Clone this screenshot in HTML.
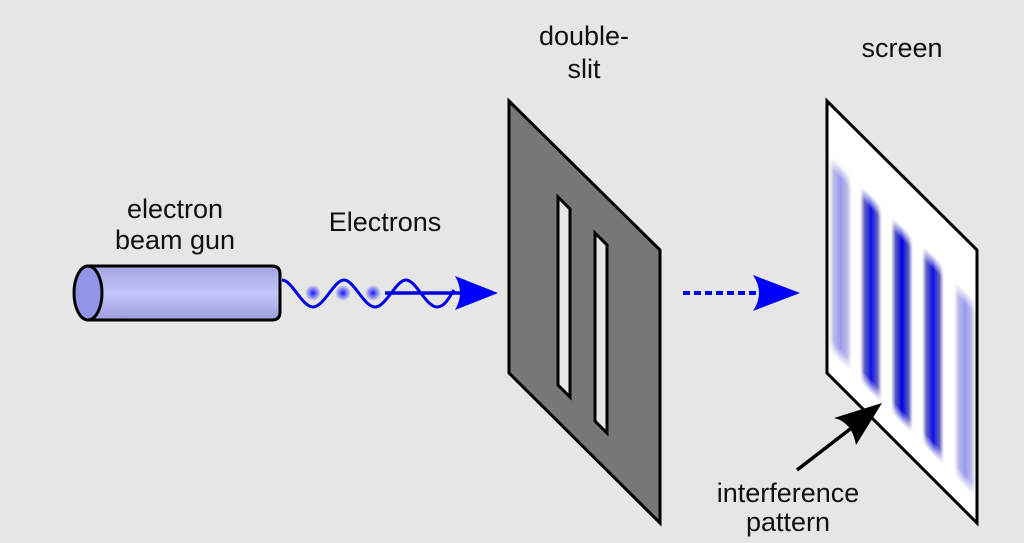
<!DOCTYPE html>
<html><head><meta charset="utf-8"><style>
html,body{margin:0;padding:0;background:#e6e6e6;}
svg{display:block;}
text{font-family:"Liberation Sans",sans-serif;font-size:27px;fill:#111;text-anchor:middle;}
</style></head><body>
<svg width="1024" height="543" viewBox="0 0 1024 543" xmlns="http://www.w3.org/2000/svg">
<defs>
<linearGradient id="cyl" x1="0" y1="0" x2="0" y2="1">
<stop offset="0" stop-color="#a4a4e0"/><stop offset="0.5" stop-color="#c4c4fc"/><stop offset="1" stop-color="#9d9ddb"/>
</linearGradient>
<radialGradient id="dot"><stop offset="0" stop-color="#1a1aff"/><stop offset="1" stop-color="#1a1aff" stop-opacity="0"/></radialGradient>
<linearGradient id="sh" x1="0" y1="0" x2="1" y2="0">
<stop offset="0" stop-color="#5050b0" stop-opacity="0"/><stop offset="0.2" stop-color="#3030b0" stop-opacity="0.8"/><stop offset="0.5" stop-color="#0000e8" stop-opacity="1"/><stop offset="0.8" stop-color="#3030b0" stop-opacity="0.8"/><stop offset="1" stop-color="#5050b0" stop-opacity="0"/>
</linearGradient>
<linearGradient id="sv" x1="0" y1="0" x2="0" y2="1">
<stop offset="0" stop-color="#fff" stop-opacity="0"/><stop offset="0.07" stop-color="#fff" stop-opacity="1"/><stop offset="0.93" stop-color="#fff" stop-opacity="1"/><stop offset="1" stop-color="#fff" stop-opacity="0"/>
</linearGradient>
<mask id="m" maskContentUnits="objectBoundingBox"><rect x="0" y="0" width="1" height="1" fill="url(#sv)"/></mask>
</defs>
<rect width="1024" height="543" fill="#e6e6e6"/>
<text x="175" y="218">electron</text>
<text x="175" y="249">beam gun</text>
<text x="385" y="231">Electrons</text>
<text x="584" y="45">double-</text>
<text x="584" y="78">slit</text>
<text x="902" y="57">screen</text>
<text x="788" y="502">interference</text>
<text x="788" y="531">pattern</text>

<path d="M88 266 L272 266 Q280 266 280 274 L280 312 Q280 320 272 320 L88 320 Z" fill="url(#cyl)" stroke="#000" stroke-width="3"/>
<ellipse cx="88" cy="293" rx="14" ry="27" fill="#9393e8" stroke="#000" stroke-width="3"/>
<circle cx="313" cy="293" r="8" fill="url(#dot)"/>
<circle cx="343" cy="293" r="8" fill="url(#dot)"/>
<circle cx="373" cy="293" r="8" fill="url(#dot)"/>
<path d="M282 280 C292 280 302 307 313 307 C324 307 334 280 344 280 C354 280 364 307 375 307 C386 307 396 280 406 280 C416 280 426 307 437 307 C445 307 450 296 454 290" fill="none" stroke="#0000e6" stroke-width="3"/>
<line x1="385" y1="293" x2="470" y2="293" stroke="#0000e6" stroke-width="3.5"/>
<path d="M498 293 L455 276 Q465 293 455 310 Z" fill="#0000ff"/>

<polygon points="509,101 660,250 660,523 509,373" fill="#777" stroke="#000" stroke-width="3"/>
<polygon points="558,197 570,209 570,397 558,385" fill="#e6e6e6" stroke="#000" stroke-width="3"/>
<polygon points="595,233 607,245 607,433 595,421" fill="#e6e6e6" stroke="#000" stroke-width="3"/>

<line x1="683" y1="293" x2="758" y2="293" stroke="#0000e6" stroke-width="4" stroke-dasharray="7,4"/>
<path d="M800 293 L753 275 Q765 293 753 311 Z" fill="#0000ff"/>

<polygon points="827,101 977,250 977,523 827,373" fill="#fff" stroke="#000" stroke-width="3"/>
<g transform="matrix(1,1,0,1,0,0)">
<rect x="829" y="-676" width="23" height="198" fill="url(#sh)" mask="url(#m)" opacity="0.4"/>
<rect x="860" y="-676" width="22" height="198" fill="url(#sh)" mask="url(#m)" opacity="0.95"/>
<rect x="891" y="-676" width="22" height="198" fill="url(#sh)" mask="url(#m)"/>
<rect x="922" y="-678" width="22" height="200" fill="url(#sh)" mask="url(#m)" opacity="0.95"/>
<rect x="954" y="-675" width="22" height="198" fill="url(#sh)" mask="url(#m)" opacity="0.4"/>
</g>

<line x1="797" y1="470" x2="858" y2="423" stroke="#000" stroke-width="3.5"/>
<path d="M882 403 L834 418 Q852 422 856 445 Z" fill="#000"/>
</svg>
</body></html>
